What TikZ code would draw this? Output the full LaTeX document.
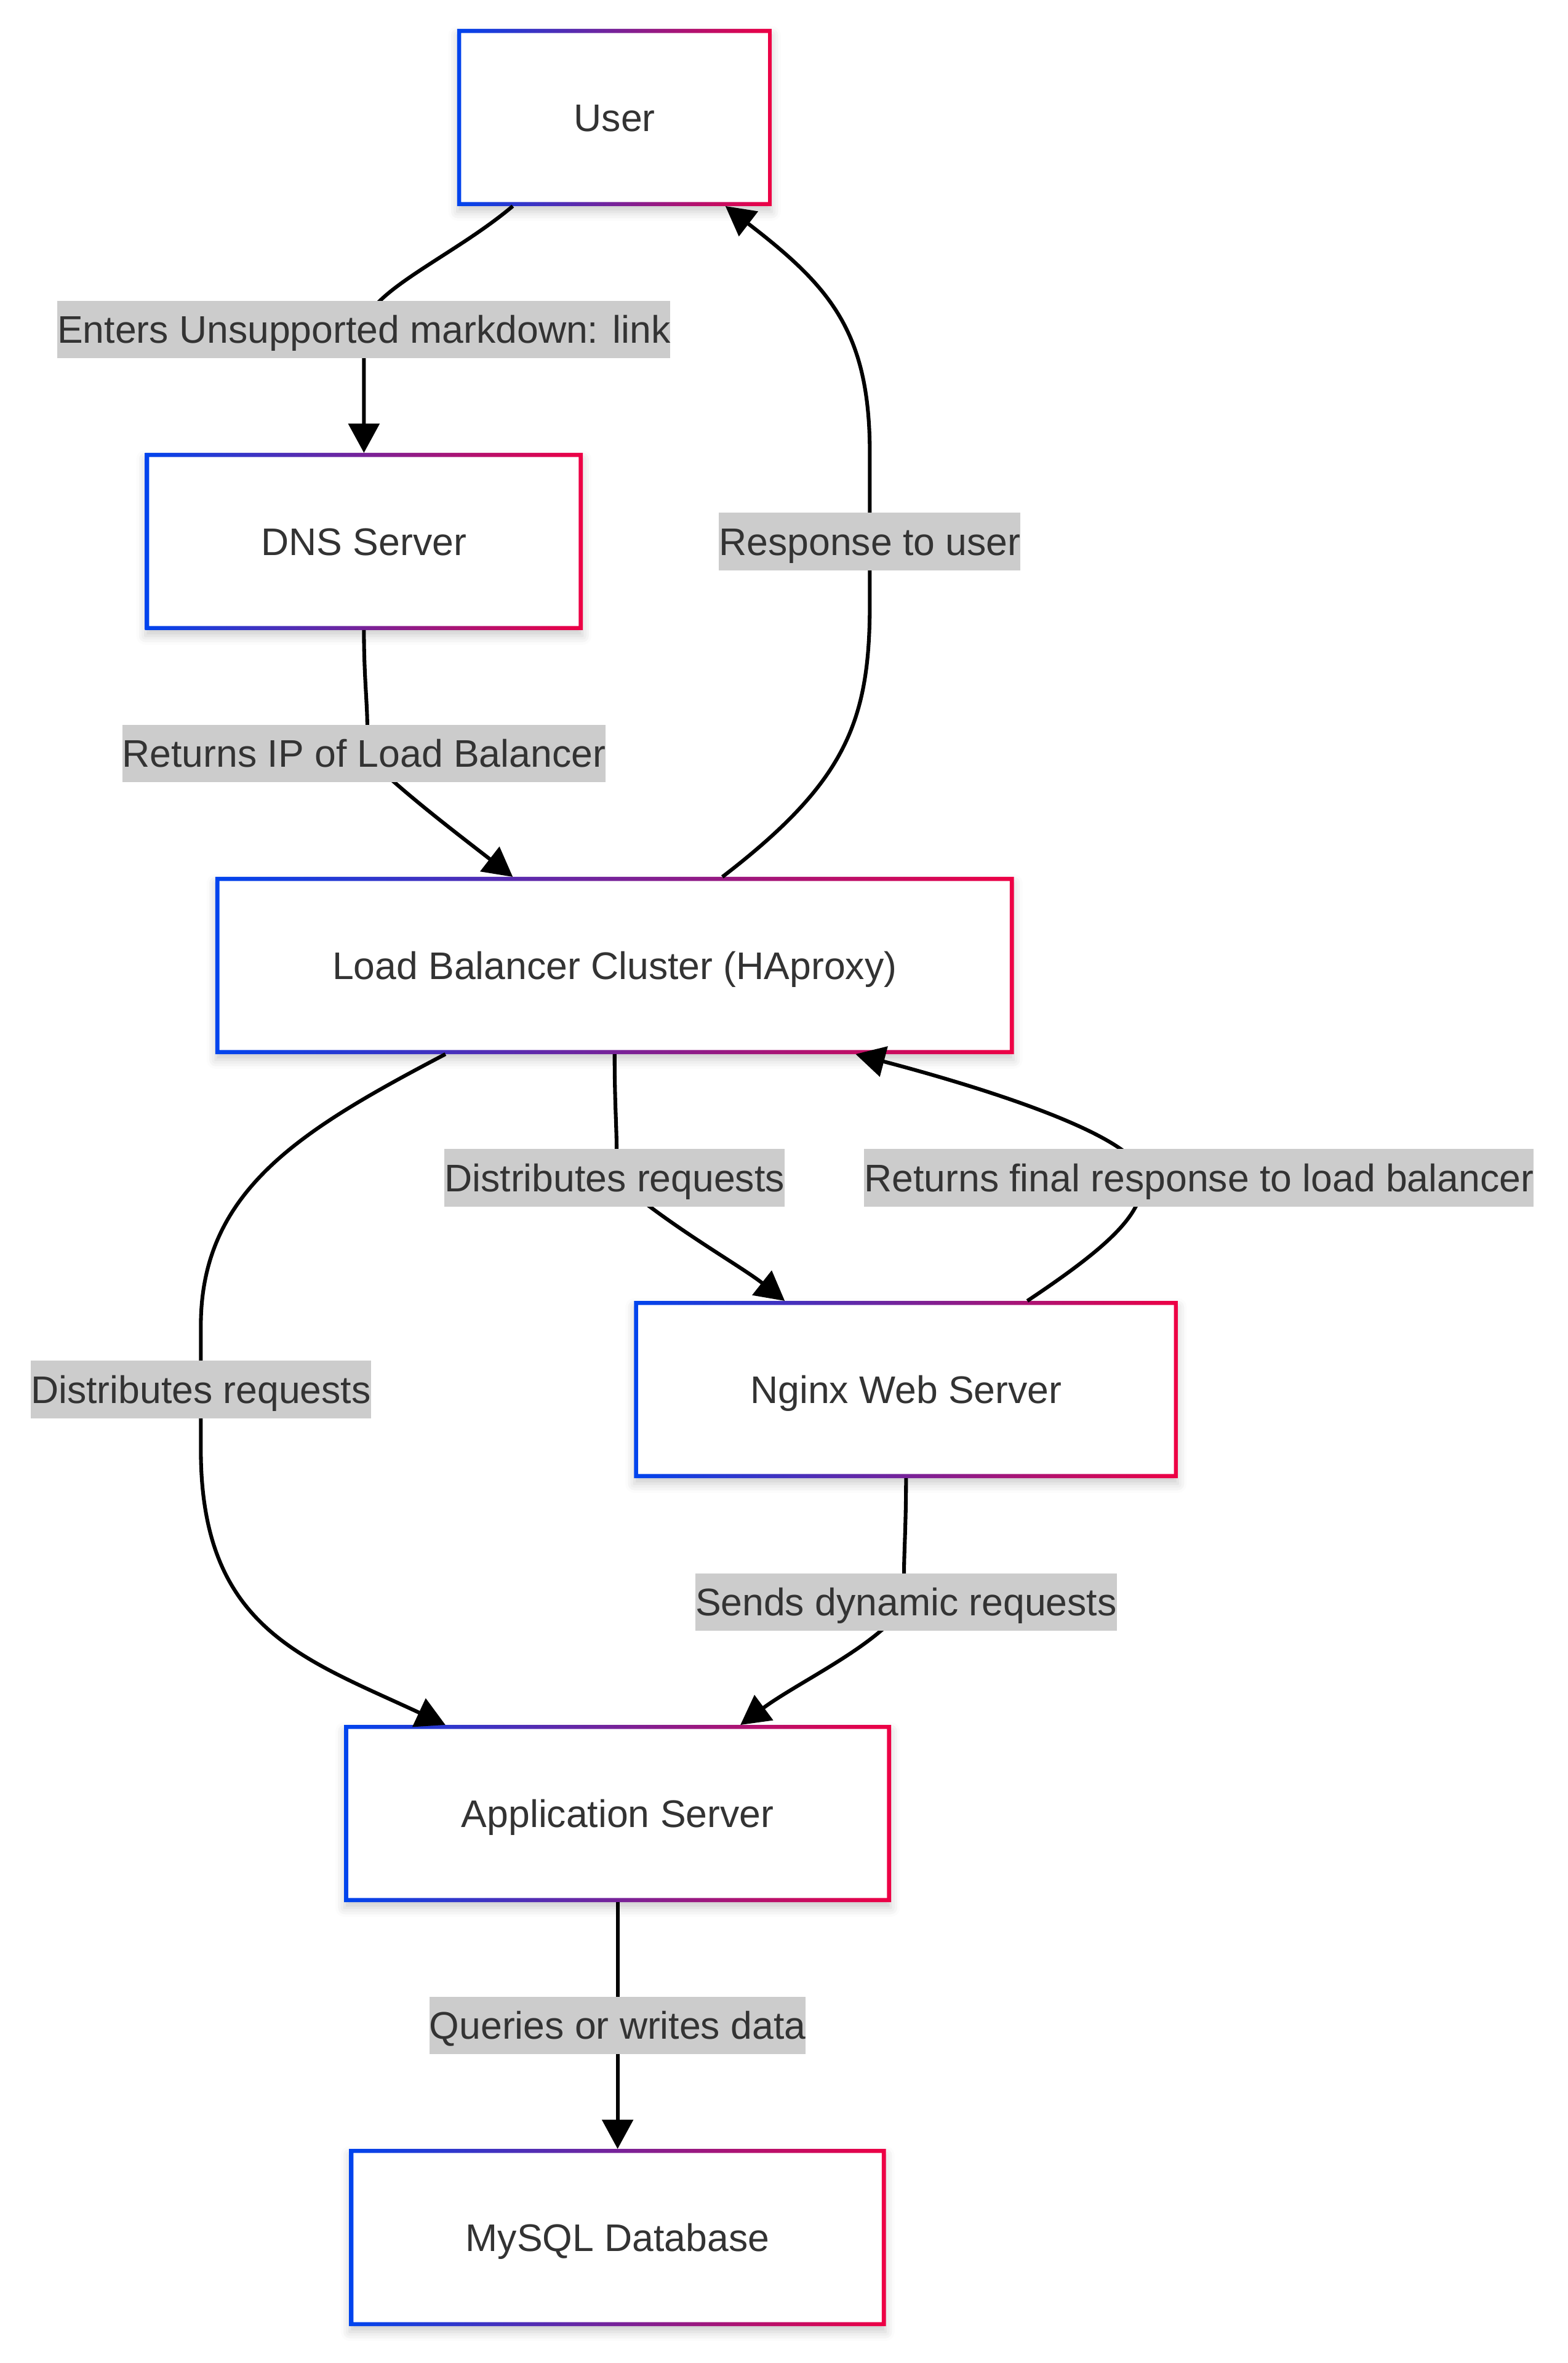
\documentclass[tikz,border=0pt]{standalone}
\usepackage{fontspec}
\setmainfont{Liberation Sans}
\usepackage{tikz, xcolor}
\usetikzlibrary{arrows.meta, calc, shadows.blur}

\definecolor{gblue}{RGB}{0,68,238}
\definecolor{gred}{RGB}{238,0,68}
\definecolor{lblgray}{RGB}{204,204,204}
\definecolor{txtgray}{RGB}{51,51,51}
\newcommand{\dfont}{\fontsize{25.7}{31}\selectfont}

\begin{document}
\begin{tikzpicture}[
  x=1.0087pt, y=-1.0087pt,
  box/.style={
    % The shape:
    rectangle,
    % The size:
    minimum height=118pt,
    % The filling:
    fill=white,
    % soft shadow under the box
    blur shadow={shadow xshift=0pt, shadow yshift=-4pt, shadow blur radius=6pt, shadow opacity=20},
    % Font
    font=\dfont, text=txtgray,
    text height=18.4pt, text depth=0pt
  },
  elabel/.style={
    % grey band behind the text
    fill=lblgray, text=txtgray, font=\dfont,
    inner xsep=0pt, inner ysep=0pt,
    minimum height=38.5pt, text height=18.4pt, text depth=0pt
  },
  link/.style={-{Triangle[length=19.5pt, width=20.5pt]}, line width=2.5pt},
  ]

  \useasboundingbox (0, 0) rectangle (1038, 1564.9);

  \node (user)  [box, minimum width=210pt] at (407, 77.8)    {User};
  \node (dns)   [box, minimum width=292pt] at (241, 358.6)   {DNS Server};
  \node (lb)    [box, minimum width=533pt] at (407, 639.4)   {Load Balancer Cluster (HAproxy)};
  \node (nginx) [box, minimum width=363pt] at (600, 920.2)   {Nginx Web Server};
  \node (app)   [box, minimum width=365pt] at (409, 1201)    {Application Server};
  \node (db)    [box, minimum width=358pt] at (409, 1481.8)  {MySQL Database};

  % Loop to draw the blue to red border of each box
  \foreach \n in {user, dns, lb, nginx, app, db}
    \shade [left color=gblue, right color=gred, even odd rule]
      (\n.north west) rectangle (\n.south east)
      ($(\n.north west) + (2.7, 2.7)$) rectangle ($(\n.south east) + (-2.7, -2.7)$);

  % request path
  \draw [link] ([xshift=-68pt]user.south) .. controls (300, 170) and (241, 194) .. (241, 218.2)
    node (l1) [elabel] {Enters Unsupported markdown: link} -- (dns.north);
  \draw [link] (dns.south) .. controls (241, 462) and (246, 482) .. (241, 499)
    node (l2) [elabel] {Returns IP of Load Balancer}
    .. controls (262, 521) and (300, 550) .. ([xshift=-68pt]lb.north);
  \draw [link] ([xshift=72pt]lb.north) .. controls (560, 518) and (576, 478) .. (576, 400)
    -- (576, 358.6) node (l3) [elabel] {Response to user}
    -- (576, 300) .. controls (576, 220) and (550, 190) .. ([xshift=74pt]user.south);

  \draw [link] (lb.south) .. controls (407, 745) and (410, 760) .. (407, 780)
    node (l4) [elabel] {Distributes requests}
    .. controls (440, 810) and (490, 838) .. ([xshift=-81pt]nginx.north);
  \draw [link] ([xshift=81pt]nginx.north) .. controls (738, 823) and (757, 803) .. (757, 780)
    node (l5) [elabel, xshift=37.3pt] {Returns final response to load balancer}
    .. controls (757, 753) and (650, 720) .. ([xshift=161pt]lb.south);
  \draw [link] ([xshift=-113pt]lb.south) .. controls (200, 748) and (133, 788) .. (133, 878)
    -- (133, 920.2) node (l6) [elabel] {Distributes requests}
    -- (133, 960) .. controls (133, 1078) and (200, 1098) .. ([xshift=-115pt]app.north);

  \draw [link] (nginx.south) .. controls (600, 1025) and (597, 1043) .. (600, 1061)
    node (l7) [elabel] {Sends dynamic requests}
    .. controls (585, 1088) and (530, 1113) .. ([xshift=82pt]app.north);
  \draw [link] (app.south) -- (db.north) node (l8) [elabel, pos=0.5] {Queries or writes data};

\end{tikzpicture}
\end{document}
